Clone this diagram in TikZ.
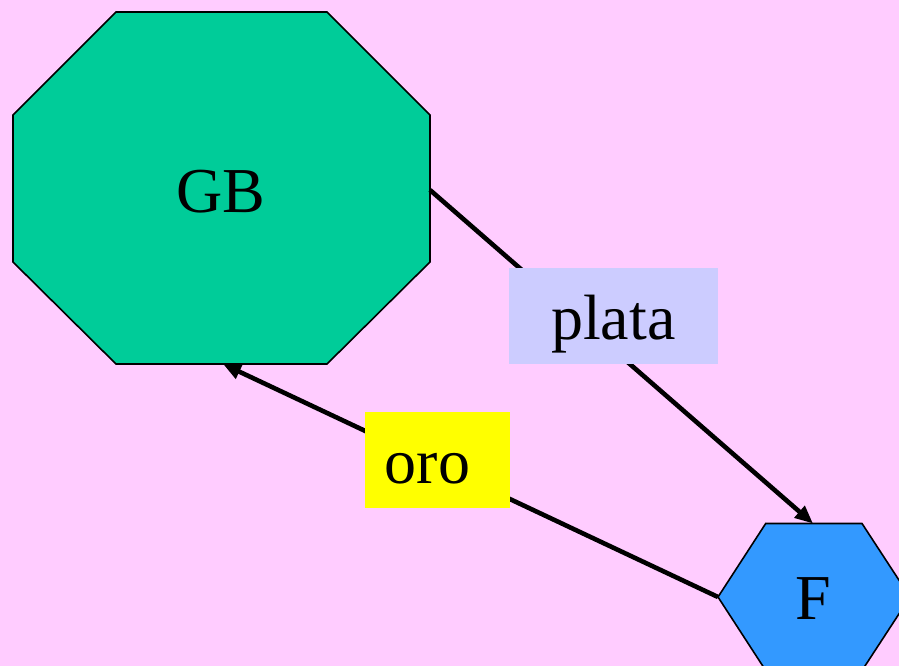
\documentclass[tikz,border=0pt]{standalone}
\usepackage{fontspec}
\setmainfont{Liberation Serif}
\usetikzlibrary{arrows.meta}
\definecolor{bgpink}{HTML}{FFCCFF}
\definecolor{gbgreen}{HTML}{00CC99}
\definecolor{fblue}{HTML}{3399FF}
\definecolor{lavender}{HTML}{CCCCFF}
\definecolor{gold}{HTML}{FFFF00}
\begin{document}
\begin{tikzpicture}[x=1pt,y=-1pt,
  shapeline/.style={draw=black,line width=1.6pt,line join=miter},
  bigtext/.style={inner sep=0pt,font=\fontsize{64}{64}\selectfont},
  edge/.style={line width=4.6pt,-{Triangle[length=18pt,width=15pt]}},
  lbl/.style={inner ysep=0pt,text height=71pt,text depth=25pt,
    font=\fontsize{64}{64}\selectfont}]
\useasboundingbox (0,0) rectangle (899,666);
\clip (0,0) rectangle (899,666);
\fill[bgpink] (0,0) rectangle (899,666);

% octagon for GB
\draw[shapeline,fill=gbgreen] (116,12) -- (327,12) -- (430,115) -- (430,262)
  -- (327,364) -- (116,364) -- (13,262) -- (13,115) -- cycle;
% hexagon for F
\draw[shapeline,fill=fblue] (765.7,523.5) -- (862,523.5) -- (910,597)
  -- (862,670.5) -- (765.7,670.5) -- (718,597) -- cycle;

% attachment points on the shape outlines
\coordinate (gbR) at (430,190);
\coordinate (gbB) at (223,364);
\coordinate (fT) at (813,523.5);
\coordinate (fL) at (718,597);

\node[bigtext,anchor=base] (GB) at (221,212) {GB};
\node[bigtext,anchor=base] (F) at (813,619.3) {F};

% connectors
\draw[edge] (gbR) -- (fT);
\draw[edge] (fL) -- (gbB);

% edge labels
\node[lbl,fill=lavender,inner xsep=0pt,minimum width=208.7pt] (plata) at (613.3,316.3) {plata};
\node[lbl,fill=gold,inner xsep=20pt,text width=104.7pt,align=left] (oro) at (437.3,460) {oro};
\end{tikzpicture}
\end{document}
